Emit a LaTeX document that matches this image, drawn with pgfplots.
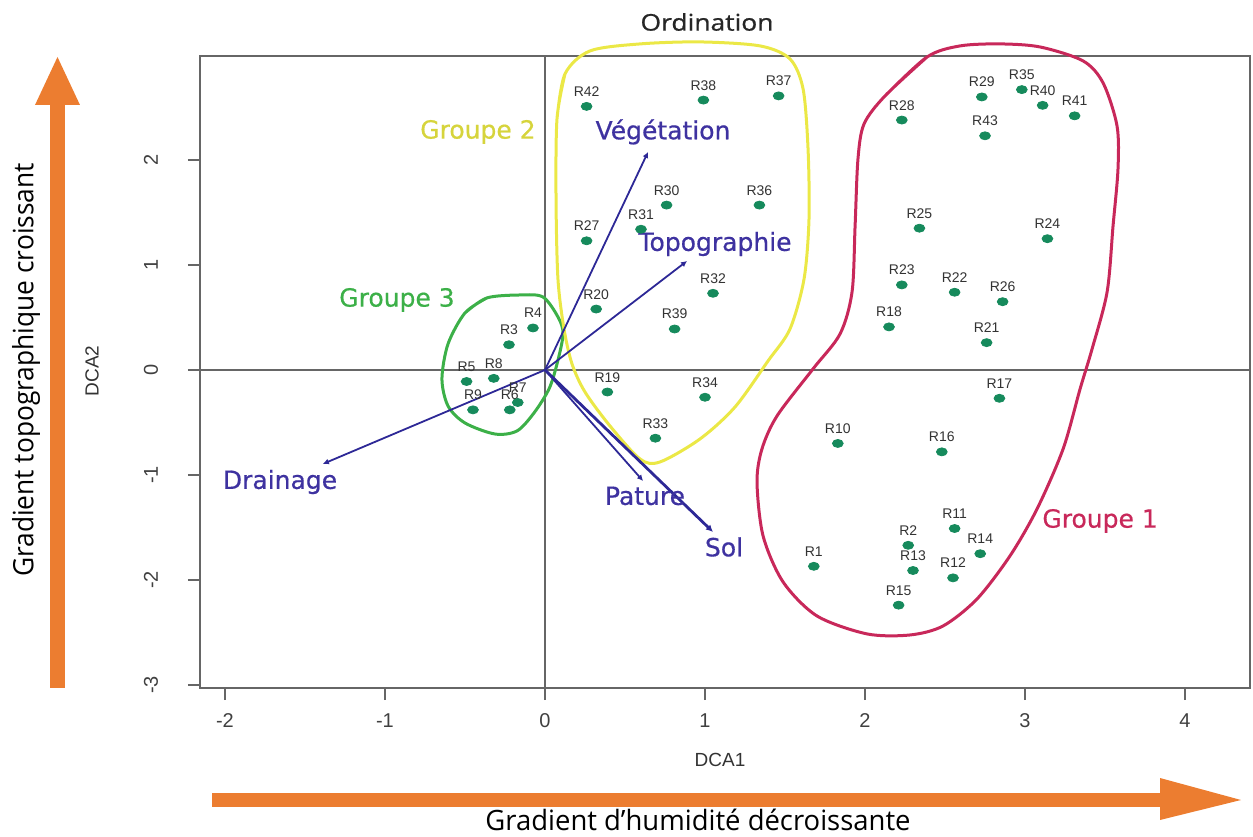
\documentclass[border=0pt]{standalone}
\usepackage{fontspec}
\setmainfont{DejaVu Sans}
\newfontfamily\lab[FakeBold=0.6]{DejaVu Sans}
\newfontfamily\lib{Liberation Sans}
\newfontfamily\osans{Open Sans}
\newfontfamily\osanst[FakeBold=0.8]{Open Sans}
\usepackage{graphicx}
\usepackage{pgfplots}
\pgfplotsset{compat=1.18}
\usetikzlibrary{arrows.meta}

\definecolor{pts}{RGB}{22,138,92}
\definecolor{vec}{RGB}{45,40,150}
\definecolor{vlab}{RGB}{62,50,160}
\definecolor{g1}{RGB}{200,40,90}
\definecolor{g2}{RGB}{235,232,70}
\definecolor{g2t}{RGB}{214,212,60}
\definecolor{g3}{RGB}{60,176,72}
\definecolor{arr}{RGB}{236,125,48}

% site scores (DCA1, DCA2)
\pgfplotstableread{
lab x y
R1 1.68 -1.87
R2 2.27 -1.67
R3 -0.225 0.24
R4 -0.075 0.40
R5 -0.49 -0.11
R6 -0.22 -0.38
R7 -0.17 -0.31
R8 -0.32 -0.08
R9 -0.45 -0.38
R10 1.83 -0.70
R11 2.56 -1.51
R12 2.55 -1.98
R13 2.30 -1.91
R14 2.72 -1.75
R15 2.21 -2.24
R16 2.48 -0.78
R17 2.84 -0.27
R18 2.15 0.41
R19 0.39 -0.21
R20 0.32 0.58
R21 2.76 0.26
R22 2.56 0.74
R23 2.23 0.81
R24 3.14 1.25
R25 2.34 1.35
R26 2.86 0.65
R27 0.26 1.23
R28 2.23 2.38
R29 2.73 2.60
R30 0.76 1.57
R31 0.60 1.34
R32 1.05 0.73
R33 0.69 -0.65
R34 1.00 -0.26
R35 2.98 2.67
R36 1.34 1.57
R37 1.46 2.61
R38 0.99 2.57
R39 0.81 0.39
R40 3.11 2.52
R41 3.31 2.42
R42 0.26 2.51
R43 2.75 2.23
}\sites

\begin{document}
\begin{tikzpicture}
\path[use as bounding box] (-100pt,-74pt) rectangle (526.5pt,344pt);

% orange gradient arrows
\fill[arr] (-75pt,0pt) rectangle (-67.5pt,291.5pt);
\fill[arr] (-82.5pt,291.5pt) -- (-60pt,291.5pt) -- (-71.25pt,315.5pt) -- cycle;
\fill[arr] (6pt,-52.5pt) rectangle (480pt,-59.5pt);
\fill[arr] (480pt,-45pt) -- (480pt,-66pt) -- (520.5pt,-56pt) -- cycle;

\node[rotate=90, inner sep=0pt] at (-87pt,159pt)
  {\scalebox{0.94}[1]{\osans\fontsize{14}{16}\selectfont Gradient topographique croissant}};
\node[anchor=base, inner sep=0pt] at (249pt,-71pt)
  {\scalebox{0.98}[1]{\osans\fontsize{14}{16}\selectfont Gradient d’humidité décroissante}};

\begin{axis}[
  at={(0pt,0pt)}, anchor=south west, scale only axis,
  width=525pt, height=316pt,
  xmin=-2.156, xmax=4.406, ymin=-3.029, ymax=2.990,
  xtick={-2,-1,0,1,2,3,4}, ytick={-3,-2,-1,0,1,2},
  xtick pos=left, ytick pos=left,
  tick align=outside, major tick length=6pt,
  axis line style={black!60, line width=0.8pt},
  tick style={black!60, line width=0.8pt},
  ticklabel style={font=\lib\fontsize{10}{12}\selectfont, text=black!75},
  /pgf/number format/assume math mode=true,
  xticklabel style={anchor=center, yshift=-10.5pt},
  yticklabel style={xshift=-18.5pt, rotate=90, anchor=center},
  clip=false,
]
% zero lines
\addplot[black!60, line width=0.7pt] coordinates {(-2.156,0) (4.406,0)};
\addplot[black!60, line width=0.7pt] coordinates {(0,-3.029) (0,2.990)};

% group hulls
\addplot[g3, line width=1.5pt, smooth] coordinates {
(-0.500,0.543) (-0.363,0.686) (-0.156,0.714) (-0.013,0.695) (0.081,0.505)
(0.113,0.343) (0.075,0.057) (0.025,-0.181) (-0.069,-0.410) (-0.175,-0.581)
(-0.313,-0.610) (-0.500,-0.505) (-0.606,-0.343) (-0.644,-0.086) (-0.606,0.248)
(-0.500,0.543) (-0.363,0.686)};
\addplot[g2, line width=1.5pt, smooth] coordinates {
(0.075,2.390) (0.125,2.819) (0.281,3.038) (0.594,3.105) (0.969,3.124)
(1.344,3.086) (1.531,2.962) (1.613,2.676) (1.644,2.105) (1.650,1.438)
(1.619,0.867) (1.531,0.390) (1.394,0.086) (1.188,-0.352) (0.969,-0.657)
(0.719,-0.876) (0.594,-0.848) (0.406,-0.533) (0.250,-0.210) (0.169,0.057)
(0.119,0.390) (0.081,0.867) (0.069,1.629) (0.075,2.390) (0.125,2.819)};
\addplot[g1, line width=1.5pt, smooth] coordinates {
(2.125,2.610) (2.388,2.981) (2.594,3.086) (2.844,3.105) (3.094,3.076)
(3.363,2.943) (3.488,2.733) (3.575,2.324) (3.581,1.914) (3.550,1.371)
(3.513,0.743) (3.419,0.200) (3.344,-0.181) (3.238,-0.752) (3.075,-1.324)
(2.906,-1.771) (2.700,-2.181) (2.488,-2.438) (2.281,-2.524) (2.013,-2.514)
(1.700,-2.343) (1.488,-2.019) (1.363,-1.581) (1.325,-1.067) (1.356,-0.752)
(1.450,-0.438) (1.675,0.010) (1.844,0.343) (1.919,0.743) (1.938,1.371)
(1.956,2.010) (1.994,2.343) (2.125,2.610) (2.388,2.981)};

% environmental vectors
\addplot[vec, line width=0.9pt, -{Latex[length=3pt,width=3pt]}] coordinates {(0,0) (0.644,2.076)};
\addplot[vec, line width=0.9pt, -{Latex[length=3pt,width=3pt]}] coordinates {(0,0) (0.888,1.038)};
\addplot[vec, line width=0.9pt, -{Latex[length=3pt,width=3pt]}] coordinates {(0,0) (-1.388,-0.895)};
\addplot[vec, line width=0.9pt, -{Latex[length=3pt,width=3pt]}] coordinates {(0,0) (0.613,-1.057)};
\addplot[vec, line width=1.4pt, -{Latex[length=3.5pt,width=3.5pt]}] coordinates {(0,0) (1.05,-1.543)};

% sites
\addplot[only marks, mark=*, mark size=2pt, pts, mark options={xscale=1.35},
  nodes near coords, point meta=explicit symbolic,
  every node near coord/.style={anchor=base, yshift=5pt, inner sep=0pt,
    font=\lib\fontsize{7}{8}\selectfont, text=black!80}]
  table[x=x, y=y, meta=lab] {\sites};

% labels
\node[text=vlab, font=\lab\fontsize{12.5}{14}\selectfont] at (axis cs:0.7375,2.267) {Végétation};
\node[text=vlab, font=\lab\fontsize{12.5}{14}\selectfont] at (axis cs:1.0625,1.20) {Topographie};
\node[text=vlab, font=\lab\fontsize{12.5}{14}\selectfont] at (axis cs:-1.656,-1.067) {Drainage};
\node[text=vlab, font=\lab\fontsize{12.5}{14}\selectfont] at (axis cs:0.625,-1.20) {Pature};
\node[text=vlab, font=\lab\fontsize{12.5}{14}\selectfont] at (axis cs:1.119,-1.686) {Sol};
\node[text=g2t, font=\lab\fontsize{12.5}{14}\selectfont] at (axis cs:-0.419,2.267) {Groupe 2};
\node[text=g3, font=\lab\fontsize{12.5}{14}\selectfont] at (axis cs:-0.925,0.667) {Groupe 3};
\node[text=g1, font=\lab\fontsize{12.5}{14}\selectfont] at (axis cs:3.469,-1.438) {Groupe 1};
\end{axis}

\node[font=\osanst\fontsize{11.5}{14}\selectfont, text=black!85] at (253.5pt,333pt) {\scalebox{1.15}[1]{Ordination}};
\node[font=\lib\fontsize{9.5}{11}\selectfont, text=black!80] at (260pt,-36pt) {DCA1};
\node[rotate=90, font=\lib\fontsize{9.5}{11}\selectfont, text=black!80] at (-54pt,158.5pt) {DCA2};
\end{tikzpicture}
\end{document}
